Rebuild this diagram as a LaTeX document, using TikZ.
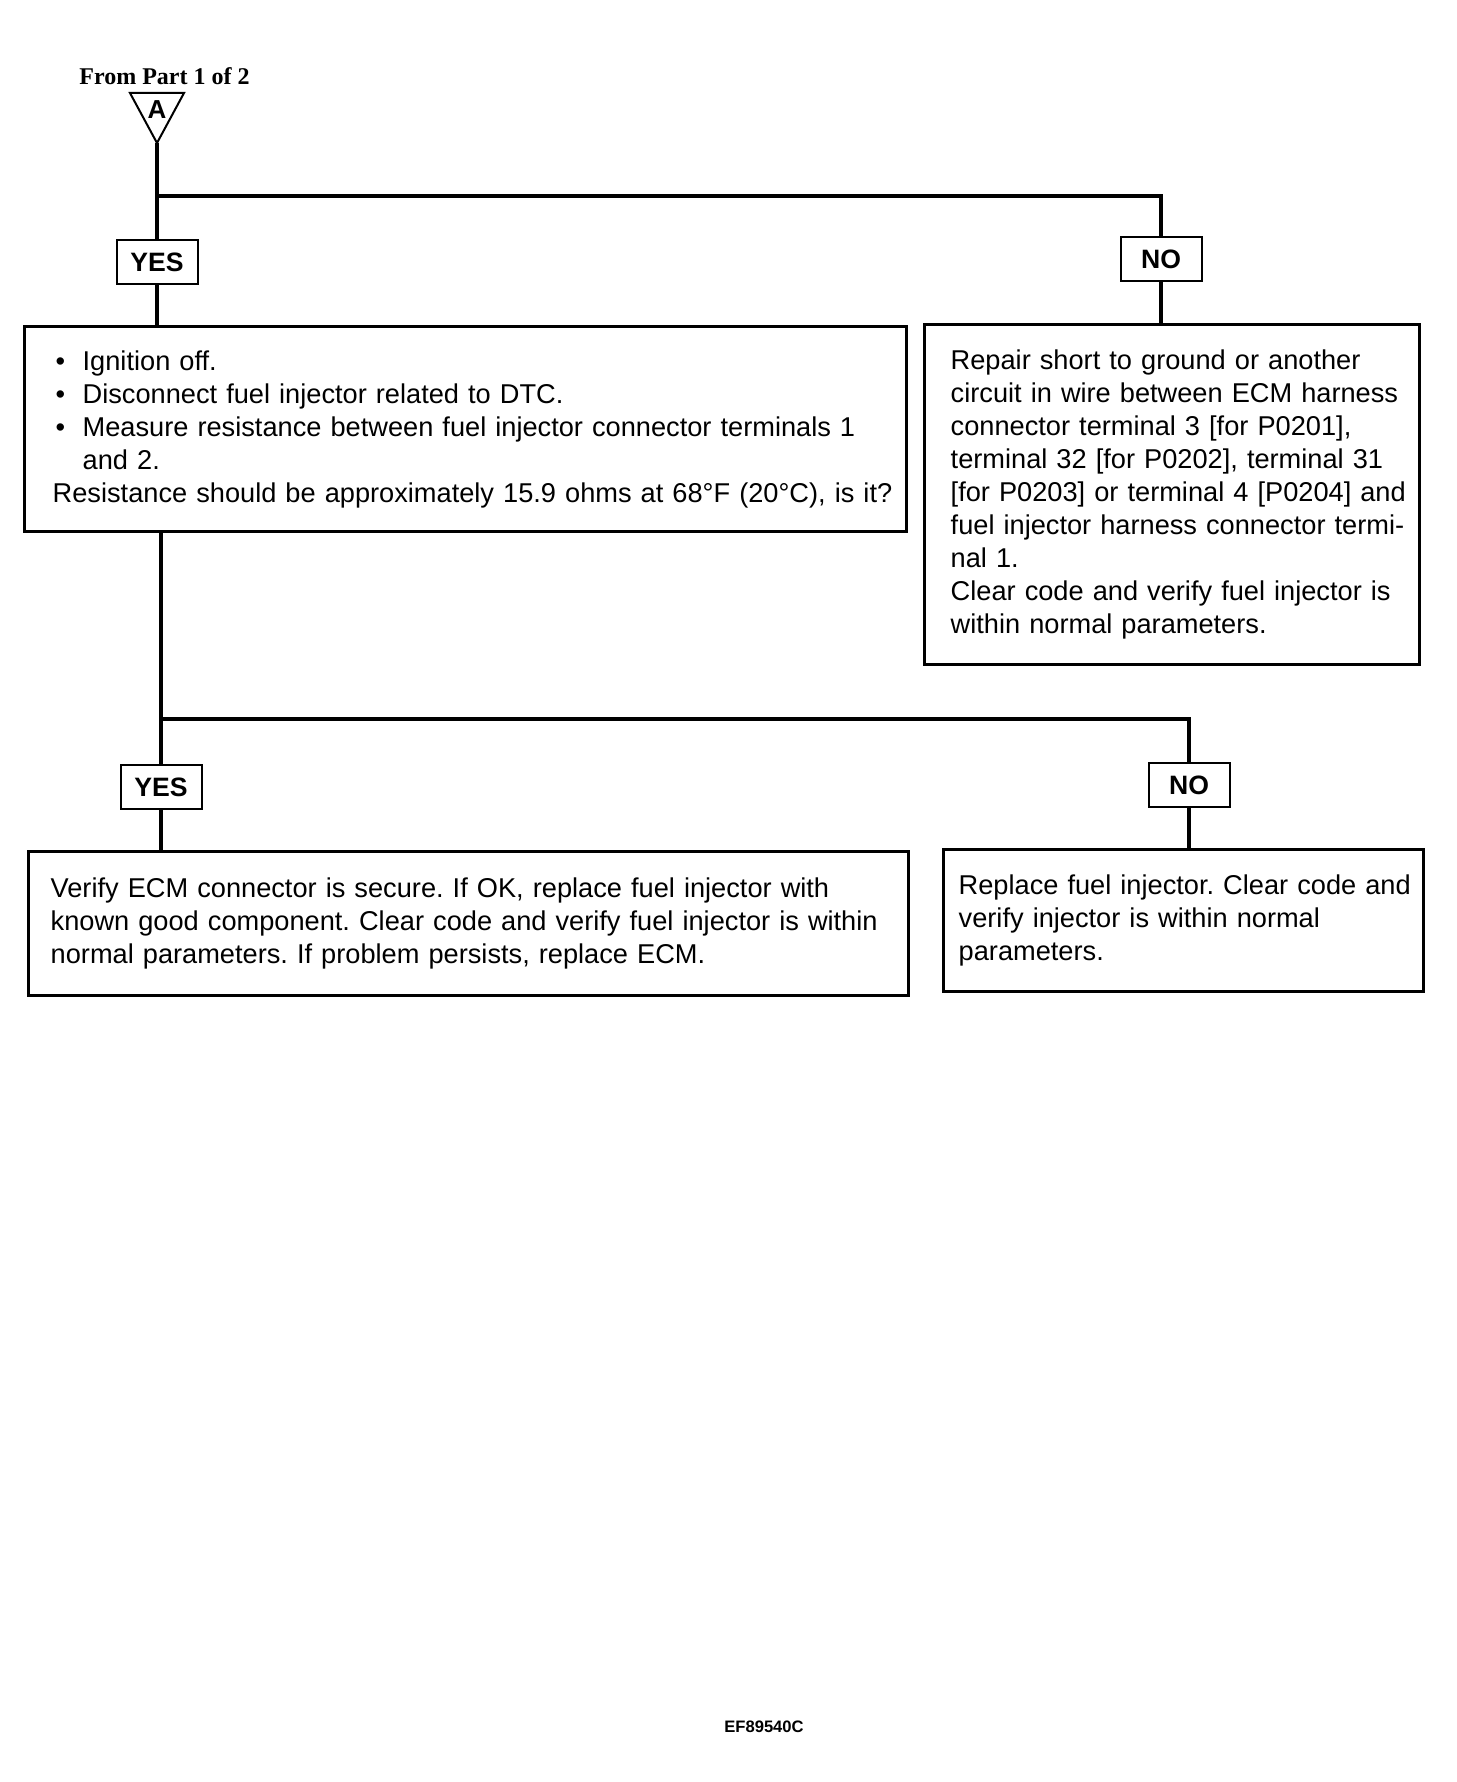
\documentclass[tikz,border=0pt]{standalone}
\usepackage{fontspec}
\setmainfont{Liberation Sans}
\newfontfamily\headfont{Liberation Serif}
\usetikzlibrary{positioning}
\frenchspacing
\newcommand{\bulletitem}{\makebox[15pt][l]{\hspace{1.5pt}\textbullet}}

\tikzset{
  answer/.style={draw, line width=1pt, inner sep=0pt,
    minimum width=40.5pt, minimum height=22pt,
    font=\fontsize{13.3}{16}\selectfont\bfseries},
  stepbox/.style={draw, line width=1.7pt, anchor=north west, align=left,
    inner ysep=0pt, font=\fontsize{13.6}{16.5}\selectfont},
  wire/.style={line width=1.7pt},
}

\begin{document}
\begin{tikzpicture}[x=0.5pt, y=-0.5pt]
\useasboundingbox (0,0) rectangle (1456,1782);

% connector from part 1
\node[anchor=base west, inner sep=0pt, font={\headfont\bfseries\fontsize{12}{14}\selectfont}] (from) at (79,85) {From Part 1 of 2};
\coordinate (apex) at (157,143);
\draw[line width=1pt] (130,93) -- (184,93) -- (apex) -- cycle;
\node[font=\bfseries\fontsize{13}{15}\selectfont, inner sep=0pt] (conA) at (157,110) {A};

% first test
\node[answer] (yes1) at (157,262) {YES};
\node[answer] (no1) at (1161,259) {NO};
\node[stepbox, text width=413pt, inner xsep=14pt, minimum height=102.5pt] (check) at (23,325) {
\bulletitem Ignition off.\\
\bulletitem Disconnect fuel injector related to DTC.\\
\mbox{\bulletitem Measure resistance between fuel injector connector terminals 1}\\
\hspace*{15pt}and 2.\\
\mbox{Resistance should be approximately 15.9 ohms at 68°F (20°C), is it?}};
\node[stepbox, text width=221.5pt, inner xsep=13pt, minimum height=170pt] (repair) at (923,323) {
\mbox{Repair short to ground or another}\\
\mbox{circuit in wire between ECM harness}\\
\mbox{connector terminal 3 [for P0201],}\\
\mbox{terminal 32 [for P0202], terminal 31}\\
\mbox{[for P0203] or terminal 4 [P0204] and}\\
\mbox{fuel injector harness connector termi-}\\
\mbox{nal 1.}\\
\mbox{Clear code and verify fuel injector is}\\
\mbox{within normal parameters.}};

% second test
\node[answer] (yes2) at (161,787) {YES};
\node[answer] (no2) at (1189,785) {NO};
\node[stepbox, text width=418pt, inner xsep=11pt, minimum height=72pt] (fixecm) at (27,850) {
\mbox{Verify ECM connector is secure. If OK, replace fuel injector with}\\
\mbox{known good component. Clear code and verify fuel injector is within}\\
\mbox{normal parameters. If problem persists, replace ECM.}};
\node[stepbox, text width=225pt, inner xsep=7.5pt, minimum height=71pt] (newinj) at (942,848) {
\mbox{Replace fuel injector. Clear code and}\\
\mbox{verify injector is within normal}\\
\mbox{parameters.}};

\node[font=\bfseries\fontsize{8.3}{10}\selectfont] (figid) at (764,1727) {EF89540C};

% lines
\coordinate (fork1) at (157,196);
\coordinate (fork2) at (161,719);
\draw[wire] (apex) -- (yes1);
\draw[wire] (fork1) -| (no1);
\draw[wire] (yes1) -- (yes1 |- check.north);
\draw[wire] (no1) -- (no1 |- repair.north);
\draw[wire] (fork2 |- check.south) -- (yes2);
\draw[wire] (fork2) -| (no2);
\draw[wire] (yes2) -- (yes2 |- fixecm.north);
\draw[wire] (no2) -- (no2 |- newinj.north);
\end{tikzpicture}
\end{document}
